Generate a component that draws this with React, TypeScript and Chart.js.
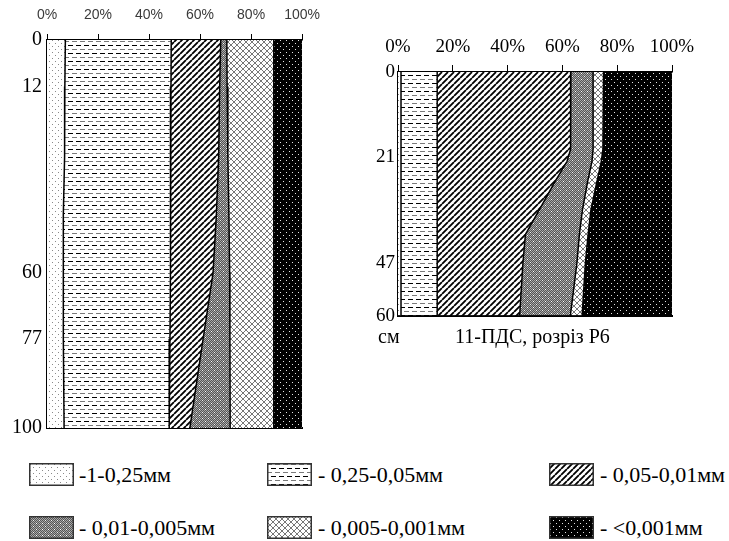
import React, { useEffect, useRef } from "react";
import { Chart, registerables } from "chart.js";

Chart.register(...registerables);

// ---------- data ----------
const fractionLabels = [
  "-1-0,25мм",
  "- 0,25-0,05мм",
  "- 0,05-0,01мм",
  "- 0,01-0,005мм",
  "- 0,005-0,001мм",
  "- <0,001мм",
];
const percentTicks = [0, 20, 40, 60, 80, 100];

// Left profile (depth, cm) and share of each fraction (%)
const leftDepths = [0, 12, 30, 45, 60, 77, 100];
const leftDepthTicks = [0, 12, 60, 77, 100];
const leftF1 = [7.2, 7.0, 6.9, 6.4, 6.3, 6.5, 6.7];
const leftF2 = [41.5, 41.6, 41.6, 42.0, 42.0, 41.7, 41.2];
const leftF3 = [19.4, 19.1, 18.8, 18.0, 16.8, 13.0, 8.1];
const leftF4 = [2.4, 2.9, 3.6, 4.9, 6.5, 10.5, 15.8];
const leftF5 = [18.4, 18.3, 18.0, 17.6, 17.3, 17.2, 17.1];
const leftF6 = [11.1, 11.1, 11.1, 11.1, 11.1, 11.1, 11.1];

// Right profile: 11-ПДС, розріз Р6
const rightDepths = [0, 19, 22, 27, 34, 40, 47, 60];
const rightDepthTicks = [0, 21, 47, 60];
const rightF1 = [1.1, 1.1, 1.1, 1.1, 1.1, 1.1, 1.1, 1.1];
const rightF2 = [13.2, 13.2, 13.2, 13.2, 13.2, 13.2, 13.2, 13.2];
const rightF3 = [48.8, 48.7, 47.4, 43.0, 37.2, 32.2, 31.3, 30.1];
const rightF4 = [8.1, 8.2, 9.1, 11.9, 15.8, 19.7, 19.7, 18.5];
const rightF5 = [3.8, 3.6, 3.4, 3.4, 3.1, 3.2, 3.1, 4.3];
const rightF6 = [25.0, 25.2, 25.8, 27.4, 29.6, 30.6, 31.6, 32.8];

const SERIF = '"Liberation Serif", "Times New Roman", serif';
const SANS = '"Liberation Sans", Arial, sans-serif';

// ---------- patterns ----------
function makeTile(kind: number): HTMLCanvasElement {
  const c = document.createElement("canvas");
  const g = c.getContext("2d") as CanvasRenderingContext2D;
  const px = (x: number, y: number, col: string) => {
    g.fillStyle = col;
    g.fillRect(x, y, 1, 1);
  };
  if (kind === 0) {
    c.width = 6; c.height = 6;
    g.fillStyle = "#fff"; g.fillRect(0, 0, 6, 6);
    px(1, 1, "#8a8a8a"); px(4, 4, "#8a8a8a");
  } else if (kind === 1) {
    c.width = 8; c.height = 8;
    g.fillStyle = "#fff"; g.fillRect(0, 0, 8, 8);
    g.fillStyle = "#7a7a7a"; g.fillRect(0, 1, 5, 1);
    g.fillStyle = "#000"; g.fillRect(4, 5, 4, 1); g.fillRect(0, 5, 1, 1);
  } else if (kind === 2) {
    c.width = 6; c.height = 6;
    g.fillStyle = "#fff"; g.fillRect(0, 0, 6, 6);
    g.strokeStyle = "#000"; g.lineWidth = 1.8;
    g.beginPath();
    for (const o of [-6, 0, 6]) { g.moveTo(o, 6); g.lineTo(o + 6, 0); }
    g.stroke();
  } else if (kind === 3) {
    c.width = 6; c.height = 6;
    for (let y = 0; y < 6; y++) for (let x = 0; x < 6; x++) px(x, y, (x + y) % 2 ? "#555" : "#a8a8a8");
    px(1, 1, "#fff"); px(4, 4, "#eee");
  } else if (kind === 4) {
    c.width = 6; c.height = 6;
    g.fillStyle = "#fff"; g.fillRect(0, 0, 6, 6);
    g.strokeStyle = "#777"; g.lineWidth = 1;
    g.beginPath();
    for (const o of [-6, 0, 6]) {
      g.moveTo(o, 6); g.lineTo(o + 6, 0);
      g.moveTo(o, 0); g.lineTo(o + 6, 6);
    }
    g.stroke();
  } else {
    c.width = 6; c.height = 6;
    g.fillStyle = "#000"; g.fillRect(0, 0, 6, 6);
    px(1, 1, "#e6e6e6"); px(4, 4, "#e6e6e6");
  }
  return c;
}

function makePatterns(ctx: CanvasRenderingContext2D) {
  return [0, 1, 2, 3, 4, 5].map((k) => ctx.createPattern(makeTile(k), "repeat") as CanvasPattern);
}

// ---------- chart factory ----------
interface ProfileOpts {
  depths: number[];
  fractions: number[][];
  depthTicks: number[];
  depthMax: number;
  axisW: number;
  axisH: number;
  padRight: number;
  padBottom: number;
  xFont: { family: string; size: number };
  xColor: string;
  xTickLen: number;
  xPad: number;
  yFont: { family: string; size: number };
  yPad: number;
  yBorder: number;
}

function buildChart(canvas: HTMLCanvasElement, o: ProfileOpts) {
  const ctx = canvas.getContext("2d") as CanvasRenderingContext2D;
  const pats = makePatterns(ctx);
  const datasets = o.fractions.map((vals, i) => ({
    label: fractionLabels[i],
    data: o.depths.map((d, j) => ({ x: vals[j], y: d })),
    backgroundColor: pats[i],
    borderColor: "#000",
    borderWidth: 1.5,
    pointRadius: 0,
    tension: 0,
    fill: i === 0 ? "origin" : "-1",
    xAxisID: "x",
    yAxisID: "y",
  }));
  return new Chart(ctx, {
    type: "line",
    data: { datasets } as any,
    options: {
      indexAxis: "y",
      animation: false,
      responsive: false,
      events: [],
      layout: { padding: { left: 0, top: 0, right: o.padRight, bottom: o.padBottom } },
      plugins: { legend: { display: false }, tooltip: { enabled: false }, title: { display: false } },
      scales: {
        x: {
          type: "linear",
          position: "top",
          stacked: true,
          min: 0,
          max: 100,
          afterBuildTicks: (s: any) => { s.ticks = percentTicks.map((v) => ({ value: v })); },
          afterFit: (s: any) => { s.height = o.axisH; },
          ticks: { callback: (v: any) => v + "%", font: o.xFont, color: o.xColor, padding: o.xPad, maxRotation: 0 },
          grid: { drawOnChartArea: false, drawTicks: true, tickLength: o.xTickLen, color: "#000", lineWidth: 1 },
          border: { display: true, color: "#000", width: 1.5 },
        },
        xb: {
          type: "linear",
          position: "bottom",
          min: 0,
          max: 100,
          afterFit: (s: any) => { s.height = 0; },
          ticks: { display: false },
          grid: { drawOnChartArea: false, drawTicks: false },
          border: { display: true, color: "#000", width: 2 },
        },
        y: {
          type: "linear",
          reverse: true,
          min: 0,
          max: o.depthMax,
          afterBuildTicks: (s: any) => { s.ticks = o.depthTicks.map((v) => ({ value: v })); },
          afterFit: (s: any) => { s.width = o.axisW; },
          ticks: { font: o.yFont, color: "#000", padding: o.yPad },
          grid: { drawOnChartArea: false, drawTicks: false },
          border: { display: true, color: "#000", width: o.yBorder },
        },
      } as any,
    },
  });
}

function Swatch({ kind, style }: { kind: number; style: React.CSSProperties }) {
  const ref = useRef<HTMLCanvasElement>(null);
  useEffect(() => {
    const c = ref.current;
    if (!c) return;
    const g = c.getContext("2d") as CanvasRenderingContext2D;
    g.fillStyle = g.createPattern(makeTile(kind), "repeat") as CanvasPattern;
    g.fillRect(0, 0, c.width, c.height);
    g.strokeStyle = "#333";
    g.lineWidth = 1.5;
    g.strokeRect(0.75, 0.75, c.width - 1.5, c.height - 1.5);
  }, [kind]);
  const w = (style.width as number) || 45;
  const h = (style.height as number) || 23;
  return <canvas ref={ref} width={w} height={h} style={{ position: "absolute", ...style }} />;
}

export default function App() {
  const leftRef = useRef<HTMLCanvasElement>(null);
  const rightRef = useRef<HTMLCanvasElement>(null);

  useEffect(() => {
    const a = buildChart(leftRef.current as HTMLCanvasElement, {
      depths: leftDepths,
      fractions: [leftF1, leftF2, leftF3, leftF4, leftF5, leftF6],
      depthTicks: leftDepthTicks,
      depthMax: 100,
      axisW: 47,
      axisH: 40,
      padRight: 25,
      padBottom: 12,
      xFont: { family: SANS, size: 14 },
      xColor: "#3a3a3a",
      xTickLen: 6,
      xPad: 10,
      yFont: { family: SERIF, size: 20 },
      yPad: 5,
      yBorder: 2,
    });
    const b = buildChart(rightRef.current as HTMLCanvasElement, {
      depths: rightDepths,
      fractions: [rightF1, rightF2, rightF3, rightF4, rightF5, rightF6],
      depthTicks: rightDepthTicks,
      depthMax: 60,
      axisW: 58,
      axisH: 42,
      padRight: 48,
      padBottom: 13,
      xFont: { family: SERIF, size: 19 },
      xColor: "#000",
      xTickLen: 7,
      xPad: 7,
      yFont: { family: SERIF, size: 19 },
      yPad: 3,
      yBorder: 2.5,
    });
    return () => { a.destroy(); b.destroy(); };
  }, []);

  const legendText: React.CSSProperties = {
    position: "absolute",
    fontFamily: SERIF,
    fontSize: 22,
    lineHeight: "23px",
    color: "#000",
    whiteSpace: "nowrap",
  };
  const cols = [{ box: 29, text: 79 }, { box: 267, text: 318 }, { box: 549, text: 600 }];
  const rows = [463, 516];

  return (
    <div style={{ position: "fixed", left: 0, top: 0, width: 729, height: 541, background: "#fff", overflow: "hidden" }}>
      <canvas ref={leftRef} width={330} height={445} style={{ position: "absolute", left: 0, top: 0 }} />
      <canvas ref={rightRef} width={380} height={300} style={{ position: "absolute", left: 340, top: 30 }} />
      <div style={{ ...legendText, fontSize: 20, left: 378, top: 325 }}>см</div>
      <div style={{ ...legendText, fontSize: 20, left: 455, top: 325 }}>11-ПДС, розріз Р6</div>
      {fractionLabels.map((lab, i) => {
        const c = cols[i % 3];
        const r = rows[Math.floor(i / 3)];
        return (
          <React.Fragment key={i}>
            <Swatch kind={i} style={{ left: c.box, top: r, width: 45, height: 23 }} />
            <div style={{ ...legendText, left: c.text, top: r }}>{lab}</div>
          </React.Fragment>
        );
      })}
    </div>
  );
}
